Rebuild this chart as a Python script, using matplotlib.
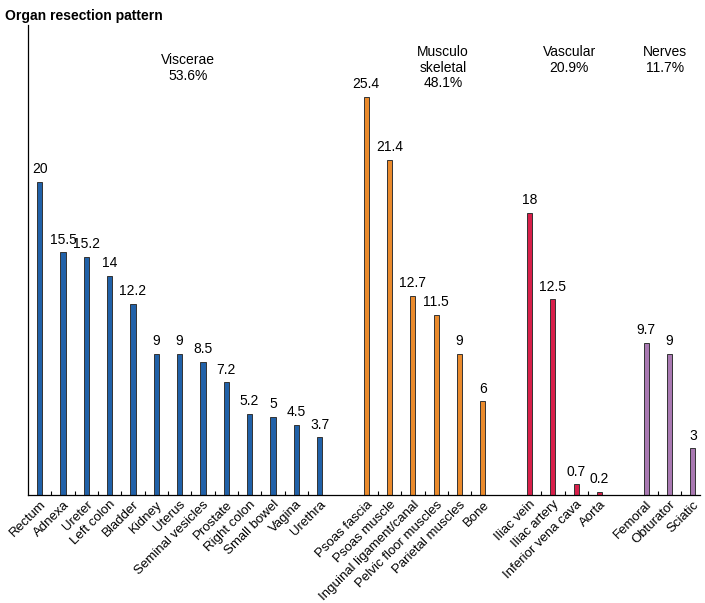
import matplotlib.pyplot as plt
import numpy as np

plt.rcParams['font.family'] = ['Liberation Sans', 'DejaVu Sans']

# data
viscerae = ['Rectum', 'Adnexa', 'Ureter', 'Left colon', 'Bladder', 'Kidney', 'Uterus',
            'Seminal vesicles', 'Prostate', 'Right colon', 'Small bowel', 'Vagina', 'Urethra']
viscerae_vals = [20, 15.5, 15.2, 14, 12.2, 9, 9, 8.5, 7.2, 5.2, 5, 4.5, 3.7]

musculo = ['Psoas fascia', 'Psoas muscle', 'Inguinal ligament/canal', 'Pelvic floor muscles',
           'Parietal muscles', 'Bone']
musculo_vals = [25.4, 21.4, 12.7, 11.5, 9, 6]

vascular = ['Iliac vein', 'Iliac artery', 'Inferior vena cava', 'Aorta']
vascular_vals = [18, 12.5, 0.7, 0.2]

nerves = ['Femoral', 'Obturator', 'Sciatic']
nerves_vals = [9.7, 9, 3]

group_titles = ['Viscerae\n53.6%', 'Musculo\nskeletal\n48.1%', 'Vascular\n20.9%', 'Nerves\n11.7%']

groups = [(viscerae, viscerae_vals, '#2161a8'),
          (musculo, musculo_vals, '#ea8a2c'),
          (vascular, vascular_vals, '#d81f4a'),
          (nerves, nerves_vals, '#a979b2')]

fig = plt.figure(figsize=(7.05, 6.03), dpi=100)
ax = fig.add_axes([0.0397, 0.179, 0.953, 0.78])

all_pos = []
all_names = []
minor = []
# group caption placement (data coords)
title_x = [6.35, 17.3, 22.7, 26.8]
title_y = [28.2, 28.7, 28.7, 28.7]
start = 0
for gi, (names, vals, col) in enumerate(groups):
    pos = np.arange(len(names)) + start
    ax.bar(pos, vals, width=0.22, color=col, edgecolor='#333333', linewidth=0.7)
    for p, v in zip(pos, vals):
        ax.text(p, v + 0.35, f'{v:g}', ha='center', va='bottom', fontsize=10)
    minor.extend(list(pos[:-1] + 0.5))
    all_pos.extend(pos)
    all_names.extend(names)
    ax.text(title_x[gi], title_y[gi], group_titles[gi], ha='center', va='top', fontsize=10,
            linespacing=1.15)
    start = pos[-1] + 2

ax.set_xlim(-0.5, 28.3)
ax.set_ylim(0, 30)
ax.set_xticks(all_pos)
ax.set_xticklabels(all_names, rotation=45, ha='right', rotation_mode='anchor', fontsize=9.5)
ax.tick_params(axis='x', which='major', length=0, pad=2.5)
ax.set_xticks(minor, minor=True)
ax.tick_params(axis='x', which='minor', direction='in', length=3, width=0.8)
ax.set_yticks([])
ax.spines['top'].set_visible(False)
ax.spines['right'].set_visible(False)
for s in ['left', 'bottom']:
    ax.spines[s].set_linewidth(0.9)

fig.text(0.007, 0.985, 'Organ resection pattern', fontsize=10, fontweight='bold',
         ha='left', va='top')

plt.savefig('out.png', dpi=100)
